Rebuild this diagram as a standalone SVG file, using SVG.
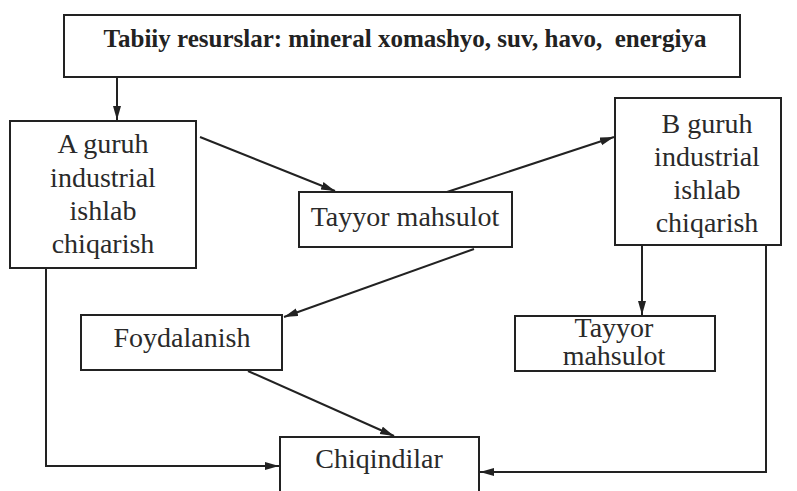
<svg xmlns="http://www.w3.org/2000/svg" width="797" height="491" viewBox="0 0 797 491">
  <style>
    .box { fill: #ffffff; stroke: #222222; stroke-width: 2; }
    .lbl { font-family: "Liberation Serif", "Times New Roman", serif; font-size: 28px; fill: #2a2a2a; text-anchor: middle; }
    .title { font-family: "Liberation Serif", "Times New Roman", serif; font-size: 25px; font-weight: bold; fill: #222222; text-anchor: middle; }
    .con { fill: none; stroke: #222222; stroke-width: 2; }
  </style>
  <defs>
    <marker id="arrow" markerUnits="userSpaceOnUse" markerWidth="16" markerHeight="10" refX="14" refY="4" orient="auto">
      <path d="M0,0 L14,4 L0,8 Z" fill="#222222"/>
    </marker>
  </defs>
  <rect width="797" height="491" fill="#ffffff"/>

  <g id="connectors">
    <line class="con" x1="117" y1="77" x2="117" y2="120" marker-end="url(#arrow)"/>
    <line class="con" x1="200" y1="137" x2="335" y2="191" marker-end="url(#arrow)"/>
    <line class="con" x1="447" y1="192" x2="614" y2="137" marker-end="url(#arrow)"/>
    <line class="con" x1="474" y1="249" x2="284" y2="317" marker-end="url(#arrow)"/>
    <line class="con" x1="248" y1="371" x2="394" y2="436" marker-end="url(#arrow)"/>
    <polyline class="con" points="46,268 46,466 279,466" marker-end="url(#arrow)"/>
    <line class="con" x1="642" y1="245" x2="642" y2="315" marker-end="url(#arrow)"/>
    <polyline class="con" points="766,245 766,472 480,472" marker-end="url(#arrow)"/>
  </g>

  <g id="resources">
    <rect class="box" x="64" y="15" width="676" height="62"/>
    <text class="title" x="405" y="47">Tabiiy resurslar: mineral xomashyo, suv, havo,&#160; energiya</text>
  </g>

  <g id="group-a">
    <rect class="box" x="10" y="121" width="186" height="147"/>
    <text class="lbl" x="103" y="153">A guruh</text>
    <text class="lbl" x="103" y="187">industrial</text>
    <text class="lbl" x="103" y="220">ishlab</text>
    <text class="lbl" x="103" y="253">chiqarish</text>
  </g>

  <g id="product-main">
    <rect class="box" x="299" y="192" width="213" height="55"/>
    <text class="lbl" x="405" y="226">Tayyor mahsulot</text>
  </g>

  <g id="group-b">
    <rect class="box" x="615" y="98" width="166" height="147"/>
    <text class="lbl" x="707" y="133">B guruh</text>
    <text class="lbl" x="707" y="166">industrial</text>
    <text class="lbl" x="707" y="199">ishlab</text>
    <text class="lbl" x="707" y="232">chiqarish</text>
  </g>

  <g id="usage">
    <rect class="box" x="81" y="315" width="201" height="55"/>
    <text class="lbl" x="182" y="347">Foydalanish</text>
  </g>

  <g id="product-b">
    <rect class="box" x="515" y="316" width="200" height="55"/>
    <text class="lbl" x="614" y="337">Tayyor</text>
    <text class="lbl" x="614" y="365">mahsulot</text>
  </g>

  <g id="waste">
    <rect class="box" x="280" y="437" width="199" height="64"/>
    <text class="lbl" x="379" y="468">Chiqindilar</text>
  </g>
</svg>
